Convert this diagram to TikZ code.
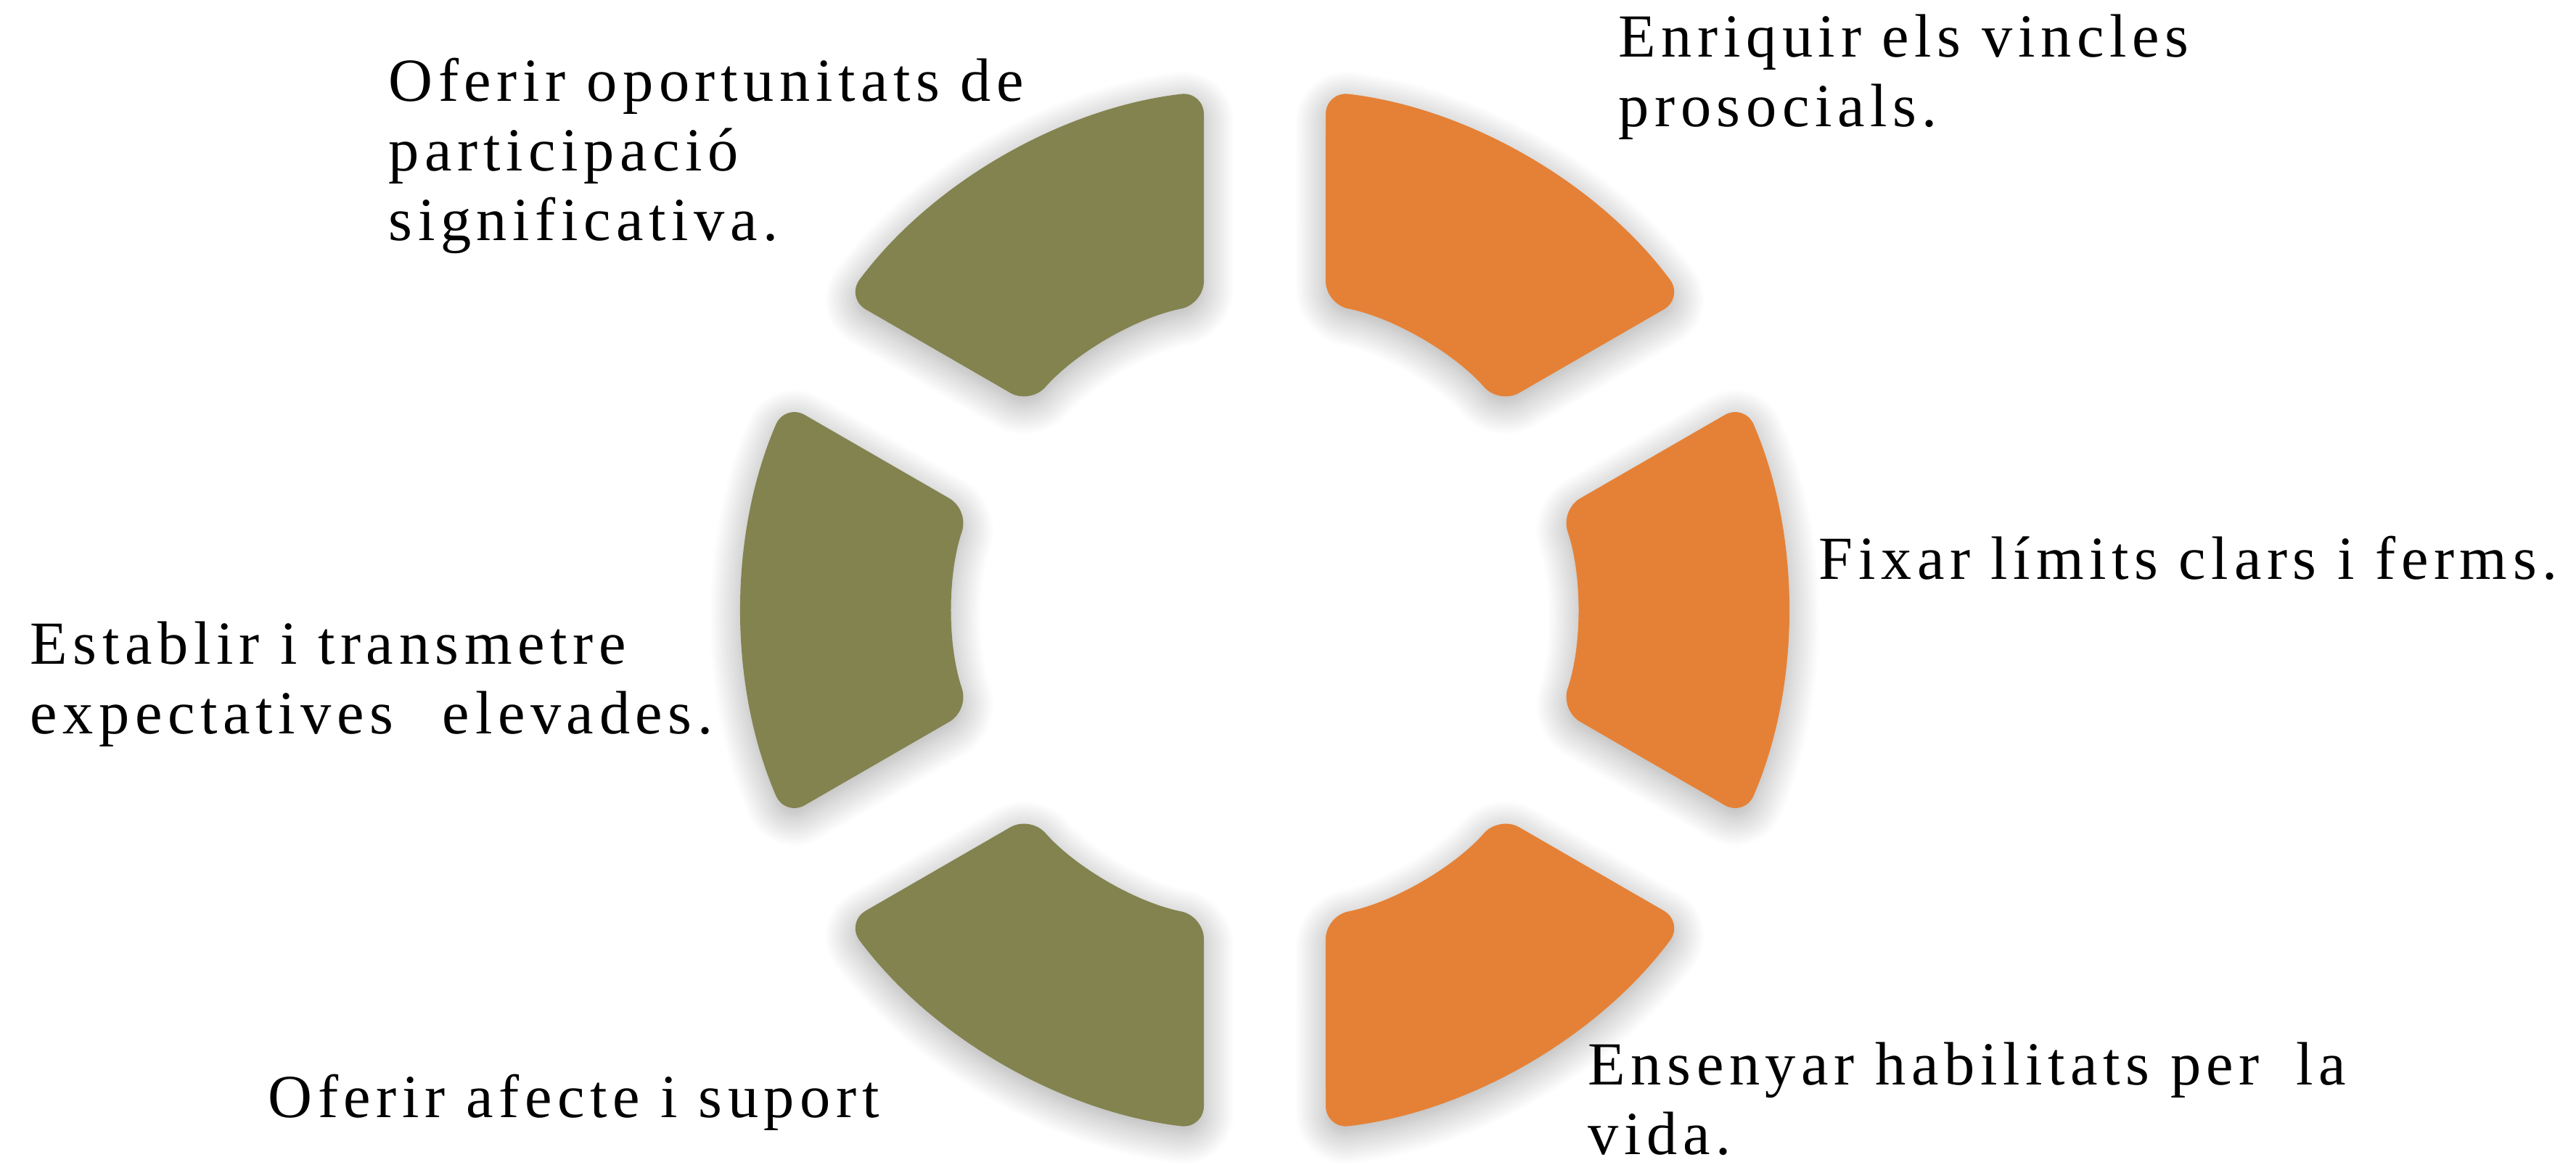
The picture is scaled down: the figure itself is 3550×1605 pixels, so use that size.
\documentclass[tikz,border=0pt]{standalone}
\usepackage{fontspec}
\setmainfont{Liberation Serif}[LetterSpace=9]
\usepackage{xcolor}
\usetikzlibrary{calc,shadows.blur}

\definecolor{segorange}{RGB}{229,129,54}
\definecolor{segolive}{RGB}{130,131,79}

\begin{document}
\begin{tikzpicture}[x=0.01cm, y=0.01cm,
    segment/.style={rounded corners=9pt,
      blur shadow={shadow xshift=0pt, shadow yshift=-3pt, shadow blur radius=12pt,
        shadow blur steps=30, shadow opacity=35}},
    caption/.style={anchor=base west, inner sep=0pt, align=left,
      font=\fontsize{24}{27.3}\selectfont}]
    \useasboundingbox (0,0) rectangle (3550,1605);

    % Ring centre, radii and gap angles
    \coordinate (c) at (1743,764);
    \def\Rout{720}
    \def\Rin{430}
    \def\ao{6.70}
    \def\ai{11.26}

    % Segments
    \foreach \ang/\col in {60/segorange, 0/segorange, -60/segorange,
                           -120/segolive, 180/segolive, 120/segolive}{
      \fill[\col, segment]
        ($(c)+({\ang-30+\ao}:\Rout)$)
        arc[start angle={\ang-30+\ao}, end angle={\ang+30-\ao}, radius=\Rout]
        -- ($(c)+({\ang+30-\ai}:\Rin)$)
        arc[start angle={\ang+30-\ai}, end angle={\ang-30+\ai}, radius=\Rin]
        -- cycle;
    }

    % Labels (anchored at the baseline of the last line)
    \node[caption] (oport) at (535,1273) {Oferir oportunitats de\\participació\\significativa.};
    \node[caption] (vincles) at (2230,1430) {Enriquir els vincles\\prosocials.};
    \node[caption] (limits) at (2506,806) {Fixar límits clars i ferms.};
    \node[caption] (expect) at (41,593) {Establir i transmetre\\expectatives\hspace{0.8em}elevades.};
    \node[caption] (afecte) at (369,65) {Oferir afecte i suport};
    \node[caption] (habil) at (2188,14) {Ensenyar habilitats per\hspace{0.6em}la\\vida.};
\end{tikzpicture}
\end{document}
